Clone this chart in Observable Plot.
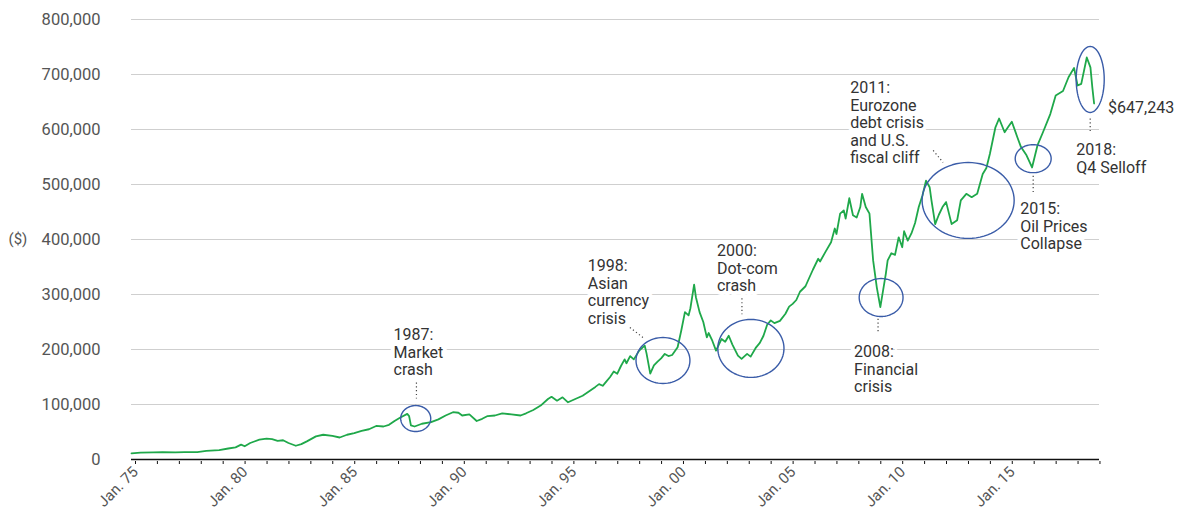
<!DOCTYPE html>
<html>
<head>
<meta charset="utf-8">
<script src="https://cdn.jsdelivr.net/npm/d3@7"></script>
<script src="https://cdn.jsdelivr.net/npm/@observablehq/plot@0.6"></script>
<style>
  html, body { margin: 0; padding: 0; background: #fff; }
  #chart { width: 1181px; height: 518px; }
</style>
</head>
<body>
<div id="chart"></div>
<script>
// ---- Series ----
const dates = [
  "1975-01","1975-06","1976-01","1976-06","1977-01","1977-06","1978-01","1978-06","1979-01","1979-06","1979-10",
  "1980-01","1980-03","1980-06","1980-11","1981-03","1981-06","1981-09","1981-12","1982-03","1982-07","1982-10",
  "1983-01","1983-06","1983-10","1984-03","1984-07","1984-11","1985-03","1985-07","1985-11","1986-03","1986-07","1986-10",
  "1987-01","1987-04","1987-08","1987-09","1987-10","1987-12","1988-04","1988-09","1989-01","1989-05","1989-09","1989-12",
  "1990-02","1990-06","1990-10","1991-01","1991-04","1991-08","1991-12","1992-05","1992-10","1993-01","1993-05","1993-09",
  "1994-01","1994-03","1994-06","1994-09","1994-12","1995-04","1995-08","1995-12","1996-03","1996-05","1996-07","1996-09","1996-11",
  "1997-01","1997-03","1997-05","1997-07","1997-08","1997-10","1997-12","1998-03","1998-06","1998-07","1998-09","1998-11",
  "1999-01","1999-03","1999-05","1999-07","1999-09","1999-12","2000-02","2000-04","2000-06","2000-07","2000-09","2000-10","2000-12",
  "2001-02","2001-04","2001-05","2001-07","2001-09","2001-12","2002-02","2002-04","2002-06","2002-09","2002-11",
  "2003-02","2003-04","2003-07","2003-09","2003-11","2004-01","2004-03","2004-05","2004-08","2004-11","2005-01","2005-03","2005-05","2005-07","2005-10","2005-12",
  "2006-02","2006-05","2006-06","2006-09","2006-12","2007-02","2007-03","2007-05","2007-07","2007-08","2007-10","2007-12",
  "2008-02","2008-04","2008-05","2008-07","2008-09","2008-11","2009-01","2009-03","2009-06","2009-07","2009-09","2009-11",
  "2010-01","2010-03","2010-04","2010-06","2010-08","2010-10","2010-12","2011-02","2011-04","2011-06","2011-07","2011-09","2011-11",
  "2012-01","2012-03","2012-06","2012-09","2012-11","2013-02","2013-05","2013-08","2013-11","2014-01","2014-03","2014-06","2014-08",
  "2014-11","2015-01","2015-03","2015-06","2015-08","2015-11","2016-02","2016-05","2016-08","2016-12","2017-03","2017-07","2017-10",
  "2018-01","2018-03","2018-05","2018-08","2018-10","2018-11","2018-12"
];
const values = [
  11000,12500,13000,13500,13000,13500,13500,15500,17000,20000,22000,
  27000,24000,30000,36000,38000,37000,34000,35000,30000,25000,28000,
  33000,42000,45000,43000,40000,45000,48000,52000,55000,61000,60000,63000,
  70000,76000,83000,79000,62000,60000,65000,68000,73000,80000,86000,85000,
  80000,82000,70000,74000,79000,80000,84000,82000,80000,84000,90000,98000,
  110000,114000,107000,113000,104000,110000,116000,125000,132000,137000,134000,142000,150000,
  160000,156000,170000,182000,175000,188000,182000,198000,207000,193000,156000,171000,
  178000,184000,192000,188000,190000,204000,235000,268000,262000,275000,318000,295000,268000,
  250000,222000,230000,216000,198000,219000,214000,225000,209000,189000,183000,
  192000,187000,204000,212000,225000,245000,253000,248000,252000,265000,278000,283000,290000,305000,315000,330000,
  345000,365000,360000,378000,395000,420000,410000,447000,453000,438000,475000,444000,
  440000,459000,483000,459000,447000,362000,313000,277000,338000,362000,375000,372000,
  404000,386000,415000,398000,411000,430000,459000,480000,507000,495000,471000,428000,445000,
  459000,468000,428000,435000,471000,483000,477000,483000,519000,530000,556000,604000,620000,
  595000,605000,614000,586000,568000,553000,531000,571000,595000,628000,662000,670000,695000,
  712000,680000,683000,731000,713000,677000,647243
];

// ---- Axis ticks ----
const yTicks = [0, 100000, 200000, 300000, 400000, 500000, 600000, 700000, 800000];
const xDomain = ["1975-01-01", "2019-03-01"];

// ---- Annotations ----
const noteText = [
  "1987:\nMarket\ncrash",
  "1998:\nAsian\ncurrency\ncrisis",
  "2000:\nDot-com\ncrash",
  "2008:\nFinancial\ncrisis",
  "2011:\nEurozone\ndebt crisis\nand U.S.\nfiscal cliff",
  "2015:\nOil Prices\nCollapse",
  "2018:\nQ4 Selloff"
];
const noteDate = ["1986-12-16","1995-10-27","2001-09-16","2007-12-20","2007-10-16","2015-07-19","2018-02-06"];
const noteValue = [240000, 365500, 392700, 209000, 689000, 469000, 576000];

// ellipse centres and radii (radius in years and in dollars)
const ringDate = ["1987-12-20","1999-04-01","2003-04-05","2009-03-14","2013-03-03","2016-02-20","2018-09-27"];
const ringValue = [74500, 180000, 202000, 294500, 471000, 547000, 691000];
const ringRx = [0.685, 1.23, 1.51, 1.0, 2.1, 0.82, 0.64];
const ringRy = [23600, 41800, 52700, 34500, 69000, 25500, 60000];

// dotted leaders
const leadDate1 = ["1988-01-01","1997-09-27","2002-11-07","2009-01-22","2011-07-30","2016-02-20","2018-09-27"];
const leadDate2 = ["1988-01-01","1998-05-01","2002-11-07","2009-01-22","2012-01-10","2016-02-20","2018-09-27"];
const leadValue1 = [140000, 240000, 293000, 256000, 562000, 516000, 620000];
const leadValue2 = [111000, 222000, 264000, 229000, 540000, 484000, 593000];

const endLabel = "$647,243";

// ---- Build tables ----
const series = dates.map((d, i) => ({date: new Date(d), value: values[i]}));
const notes = noteText.map((t, i) => ({text: t, date: new Date(noteDate[i]), value: noteValue[i]}));
const leaders = leadDate1.map((d, i) => ({
  x1: new Date(d), x2: new Date(leadDate2[i]), y1: leadValue1[i], y2: leadValue2[i]
}));
const YEAR = 365.25 * 864e5;
const rings = [];
ringDate.forEach((d, i) => {
  const c = new Date(d).getTime();
  for (let k = 0; k < 72; k++) {
    const t = (k / 72) * 2 * Math.PI;
    rings.push({id: i, date: new Date(c + ringRx[i] * YEAR * Math.cos(t)), value: ringValue[i] + ringRy[i] * Math.sin(t)});
  }
});
const last = series[series.length - 1];

const chart = Plot.plot({
  width: 1181,
  height: 518,
  marginLeft: 131,
  marginRight: 82,
  marginTop: 19,
  marginBottom: 59,
  style: {fontFamily: "Roboto, 'Liberation Sans', sans-serif", background: "#fff"},
  x: {type: "utc", domain: xDomain.map(d => new Date(d))},
  y: {domain: [0, 800000]},
  marks: [
    Plot.gridY(yTicks, {stroke: "#cfcfcf", strokeOpacity: 1, strokeWidth: 1}),
    Plot.axisY(yTicks, {
      tickSize: 0, tickPadding: 31, fontSize: 16.5, fill: "#555",
      tickFormat: d3.format(","), label: null
    }),
    Plot.axisX({
      ticks: d3.utcYear.every(1), tickSize: 3, tickPadding: 5, tickRotate: -45,
      fontSize: 15, fill: "#555", stroke: "#111", label: null, dx: 4, dy: 2,
      tickFormat: d => d.getUTCFullYear() % 5 === 0 ? `Jan. ${String(d.getUTCFullYear()).slice(2)}` : ""
    }),
    Plot.ruleY([0], {stroke: "#111", strokeWidth: 1.6}),
    Plot.text([{t: "($)", v: 400000}], {
      y: "v", text: "t", frameAnchor: "left", dx: -123, textAnchor: "start",
      fontSize: 15, fill: "#555"
    }),
    Plot.link(leaders, {
      x1: "x1", y1: "y1", x2: "x2", y2: "y2",
      stroke: "#444", strokeWidth: 1.2, strokeDasharray: "1.2,2.6"
    }),
    Plot.text(notes, {
      x: "date", y: "value", text: "text", textAnchor: "start", lineAnchor: "top",
      lineHeight: 1.1, fontSize: 16, fill: "#333", stroke: "white", strokeWidth: 8,
      paintOrder: "stroke", style: "letter-spacing:0.5px"
    }),
    Plot.line(series, {x: "date", y: "value", stroke: "#1fa84a", strokeWidth: 1.8}),
    Plot.line(rings, {x: "date", y: "value", z: "id", curve: "linear-closed", stroke: "#3a5ca8", strokeWidth: 1.4}),
    Plot.text([last], {
      x: "date", y: "value", text: () => endLabel, textAnchor: "start", dx: 14, dy: 4,
      fontSize: 16, fill: "#333", style: "letter-spacing:0.5px"
    })
  ]
});
document.getElementById("chart").appendChild(chart);
</script>
</body>
</html>
